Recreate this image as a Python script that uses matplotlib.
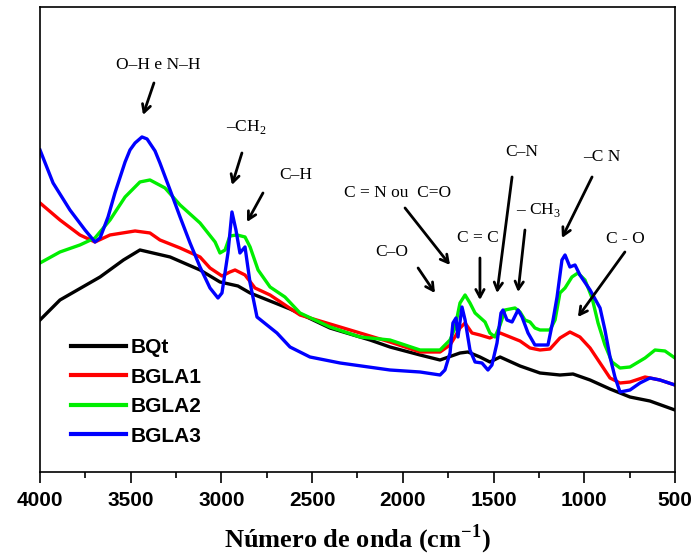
import matplotlib
matplotlib.use("Agg")
import matplotlib.pyplot as plt
from matplotlib.ticker import MultipleLocator

# FTIR spectra (intensity in arbitrary units)
w_bqt = [4000, 3890, 3669, 3540, 3449, 3283, 3118, 3008, 2909, 2842, 2622, 2402, 2181, 2071,
         1905, 1795, 1685, 1641, 1575, 1520, 1464, 1354, 1244, 1134, 1062, 968, 858, 748, 638, 500]
i_bqt = [152, 172, 195, 212, 222, 215, 202, 190, 186, 179, 163, 144, 132, 125,
         117, 112, 119, 120, 115, 110, 115, 106, 99, 97, 98, 92, 83, 75, 71, 62]

w_bgla1 = [4000, 3890, 3780, 3697, 3614, 3476, 3394, 3339, 3228, 3118, 3063, 2997, 2953, 2925,
           2870, 2815, 2732, 2567, 2291, 2071, 1905, 1795, 1740, 1713, 1685, 1657, 1619, 1575,
           1520, 1464, 1409, 1354, 1299, 1244, 1189, 1134, 1079, 1024, 968, 913, 858, 803,
           748, 665, 583, 500]
i_bgla1 = [269, 252, 237, 230, 237, 241, 239, 232, 224, 215, 204, 196, 200, 202,
           197, 184, 177, 157, 142, 130, 120, 120, 127, 135, 144, 149, 139, 137,
           134, 139, 135, 131, 124, 122, 123, 134, 140, 135, 124, 109, 94, 89,
           90, 95, 92, 87]

w_bgla2 = [4000, 3890, 3780, 3697, 3614, 3531, 3449, 3394, 3311, 3228, 3118, 3035, 3008, 2980,
           2953, 2914, 2870, 2842, 2798, 2732, 2650, 2567, 2402, 2236, 2071, 1905, 1795, 1740,
           1713, 1685, 1657, 1630, 1602, 1547, 1520, 1492, 1464, 1437, 1382, 1354, 1327, 1299,
           1272, 1244, 1189, 1161, 1134, 1106, 1068, 1035, 996, 957, 924, 886, 847, 803,
           748, 665, 610, 555, 500]
i_bgla2 = [209, 220, 227, 234, 252, 275, 290, 292, 284, 267, 249, 230, 219, 222,
           236, 237, 235, 225, 202, 185, 175, 159, 145, 135, 132, 122, 122, 132,
           144, 169, 177, 169, 159, 150, 139, 135, 147, 162, 164, 160, 152, 150,
           144, 142, 142, 152, 179, 184, 195, 199, 192, 174, 149, 127, 110, 104,
           105, 114, 122, 121, 114]

w_bgla3 = [4000, 3928, 3835, 3752, 3697, 3669, 3625, 3587, 3531, 3504, 3476, 3438, 3410, 3366,
           3339, 3283, 3228, 3173, 3118, 3063, 3019, 2997, 2964, 2942, 2920, 2898, 2870, 2842,
           2804, 2749, 2694, 2622, 2512, 2346, 2071, 1905, 1795, 1768, 1740, 1724, 1707, 1696,
           1674, 1657, 1630, 1602, 1564, 1531, 1509, 1481, 1459, 1448, 1426, 1398, 1365, 1343,
           1310, 1272, 1244, 1200, 1172, 1150, 1123, 1106, 1079, 1051, 1024, 968, 913, 886,
           858, 831, 803, 748, 693, 638, 583, 500]
i_bgla3 = [322, 289, 262, 242, 230, 234, 255, 279, 310, 322, 329, 335, 333, 321,
           309, 282, 255, 229, 205, 184, 174, 179, 219, 260, 242, 219, 225, 189,
           155, 147, 139, 125, 115, 109, 102, 100, 97, 102, 119, 149, 154, 135,
           165, 152, 122, 110, 109, 102, 107, 129, 159, 162, 152, 150, 162, 155,
           139, 127, 127, 127, 152, 175, 212, 217, 205, 207, 197, 182, 164, 142,
           115, 95, 80, 82, 89, 94, 92, 87]

labels = ["BQt", "BGLA1", "BGLA2", "BGLA3"]
colors = ["black", "#ff0000", "#00ee00", "#0000ff"]

# band assignments: (text, text pos, arrow tail, arrow head)
bands = [
    ("O–H e N–H", (3350, 407), (3372, 389), (3432, 357)),
    ("–CH$_2$", (2864, 345), (2887, 319), (2942, 287)),
    ("C–H", (2589, 297), (2771, 279), (2859, 250)),
    ("C = N ou  C=O", (2027, 279), (1988, 264), (1740, 207)),
    ("C–O", (2060, 220), (1916, 204), (1823, 179)),
    ("C = C", (1586, 234), (1575, 214), (1575, 172)),
    ("C–N", (1343, 320), (1398, 295), (1481, 179)),
    ("– CH$_3$", (1250, 262), (1327, 242), (1365, 180)),
    ("–C N", (902, 315), (957, 295), (1123, 234)),
    ("C - O", (776, 233), (776, 220), (1035, 155)),
]

plt.rcParams['mathtext.fontset'] = 'custom'
plt.rcParams['mathtext.rm'] = 'Liberation Serif'
plt.rcParams['mathtext.bf'] = 'Liberation Serif:bold'

fig = plt.figure(figsize=(6.97, 5.59), dpi=100)
ax = fig.add_axes([0.0574, 0.1556, 0.911, 0.832])

series = [(w_bqt, i_bqt), (w_bgla1, i_bgla1), (w_bgla2, i_bgla2), (w_bgla3, i_bgla3)]
for (w, i), lab, c in zip(series, labels, colors):
    ax.plot(w, i, color=c, lw=2.4, label=lab, solid_joinstyle='round')

for txt, tpos, tail, head in bands:
    ax.text(tpos[0], tpos[1], txt, ha='center', va='center',
            family='Liberation Serif', fontsize=12.5)
    ax.annotate("", xy=head, xytext=tail,
                arrowprops=dict(arrowstyle='->,head_length=0.55,head_width=0.3',
                                color='black', lw=2, shrinkA=0, shrinkB=0))

ax.set_xlim(4000, 500)
ax.set_ylim(0, 465)
ax.xaxis.set_major_locator(MultipleLocator(500))
ax.xaxis.set_minor_locator(MultipleLocator(250))
ax.set_yticks([])
ax.tick_params(axis='x', which='major', direction='out', length=8, width=1.2,
               labelsize=15, pad=6)
ax.tick_params(axis='x', which='minor', direction='out', length=4, width=1.2)
for lbl in ax.get_xticklabels():
    lbl.set_family('Liberation Sans')
    lbl.set_fontweight('bold')
for sp in ax.spines.values():
    sp.set_linewidth(1.2)

ax.set_xlabel("Número de onda (cm$^{\\mathbf{-1}}$)", family='Liberation Serif',
              fontweight='bold', fontsize=19, labelpad=9)

leg = ax.legend(loc='upper left', bbox_to_anchor=(0.033, 0.31), frameon=False,
                borderpad=0, handlelength=2.6, handletextpad=0.25, labelspacing=0.5,
                prop={'family': 'Liberation Sans', 'weight': 'bold', 'size': 15})
for line in leg.get_lines():
    line.set_linewidth(3)

fig.savefig("out.png", dpi=100)
